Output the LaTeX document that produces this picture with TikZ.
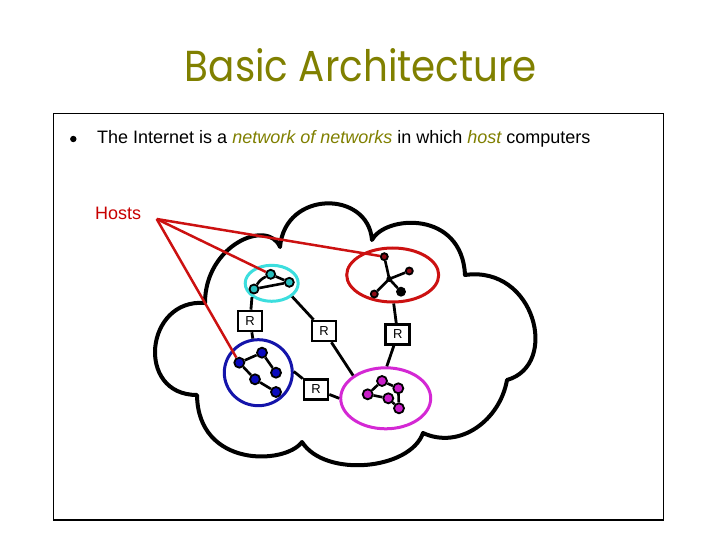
\documentclass[tikz,border=0pt]{standalone}
\usepackage{graphicx}
\usepackage{fontspec}
\setmainfont{Liberation Sans}
\newfontfamily\titlefont{Poppins}
\usetikzlibrary{shapes.geometric}
\definecolor{olivet}{RGB}{128,128,0}
\definecolor{hostred}{RGB}{204,17,17}
\definecolor{labelred}{RGB}{200,0,0}
\definecolor{cyanring}{RGB}{60,222,222}
\definecolor{cyanfill}{RGB}{40,190,190}
\definecolor{bluering}{RGB}{20,20,170}
\definecolor{bluefill}{RGB}{10,10,190}
\definecolor{magring}{RGB}{212,40,212}
\definecolor{magfill}{RGB}{200,30,200}
\definecolor{darkhost}{RGB}{140,10,20}
\tikzset{
  cloudline/.style={line width=4pt, line join=round, line cap=round},
  ring/.style={ellipse, draw, line width=3pt, inner sep=0pt},
  rbox/.style={draw, line width=2.6pt, fill=white, minimum width=24pt, minimum height=20pt, inner sep=0pt, font=\fontsize{13}{13}\selectfont},
  link/.style={line width=2.8pt},
  hostline/.style={hostred, line width=2.5pt},
  hostedge/.style={line width=2.6pt},
  dot/.style={circle, draw, line width=1.8pt, inner sep=0pt, minimum size=9pt},
  cyanhost/.style={dot, fill=cyanfill},
  bluehost/.style={dot, fill=bluefill, minimum size=10pt},
  maghost/.style={dot, fill=magfill, minimum size=10pt},
  redhost/.style={dot, fill=darkhost, minimum size=7pt},
}
\begin{document}
\begin{tikzpicture}[x=1pt,y=-1pt]
\useasboundingbox (0,0) rectangle (720,540);
\fill[white] (0,0) rectangle (720,540);

% title
\node[anchor=base, inner sep=0pt, text=olivet] (title) at (361,82)
  {\resizebox{352pt}{33pt}{\titlefont Basic Architecture}};

% frame
\draw[line width=1.5pt] (53.3,113.3) rectangle (663.3,520);

% bullet text
\fill (73.3,139) circle (3.2pt);
\node[anchor=base west, inner sep=0pt, font=\fontsize{18}{18}\selectfont] (line1) at (97,144)
  {The Internet is a \textcolor{olivet}{\itshape network of networks} in which \textcolor{olivet}{\itshape host} computers};

\node[anchor=base west, inner sep=0pt, text=labelred, font=\fontsize{18}{18}\selectfont] (hosts) at (95,220) {Hosts};
\coordinate (hp) at (156.7,219);

% cloud
\draw[cloudline] (205,303)
  .. controls (205,245) and (268,218) .. (280,247)
  .. controls (285,190) and (368,190) .. (372,240)
  .. controls (385,215) and (462,210) .. (465,275)
  .. controls (535,265) and (560,365) .. (507,380)
  .. controls (500,420) and (460,450) .. (423,433)
  .. controls (410,470) and (325,478) .. (302,442)
  .. controls (285,465) and (198,468) .. (197,395)
  .. controls (135,395) and (145,298) .. cycle;

% network rings
\node[ring, draw=cyanring, minimum width=53pt, minimum height=36pt] (cyan) at (271.7,283.3) {};
\node[ring, draw=hostred, minimum width=92pt, minimum height=54pt] (red) at (392.7,275) {};
\node[ring, draw=bluering, minimum width=68pt, minimum height=66pt] (blue) at (258.3,372.7) {};
\node[ring, draw=magring, minimum width=90pt, minimum height=61pt] (mag) at (385.7,398.3) {};

% routers
\node[rbox] (R1) at (250,321) {R};
\node[rbox] (R2) at (324,331) {R};
\node[rbox] (R3) at (397.7,334.3) {R};
\node[rbox] (R4) at (316,389.3) {R};

\draw[link] (cyan.215) -- (R1) -- (blue);
\draw[link] (cyan.-33) -- (R2) -- (mag.145);
\draw[link] (red.272) -- (R3) -- (mag.88);
\draw[link] (blue.2) -- (R4) -- (mag.180);

% hosts: cyan
\node[cyanhost] (c1) at (254,289) {};
\node[cyanhost] (c2) at (270.7,274.3) {};
\node[cyanhost] (c3) at (289.3,282.3) {};
\draw[hostedge] (c1) to[bend left=15] (c2);
\draw[hostedge] (c2) -- (c3);
\draw[hostedge] (c1) -- (c3);

% hosts: red star
\node[circle, fill=black, inner sep=0pt, minimum size=6pt] (r0) at (389.3,279) {};
\node[redhost] (r1) at (384.3,256.7) {};
\node[redhost] (r2) at (409.3,271) {};
\node[redhost] (r3) at (374.3,294) {};
\node[dot, fill=black, minimum size=8pt] (r4) at (401,291.7) {};
\draw[hostedge] (r0.center) -- (r1);
\draw[hostedge] (r0.center) -- (r2);
\draw[hostedge] (r0.center) -- (r3);
\draw[hostedge] (r0.center) -- (r4);

% hosts: blue
\node[bluehost] (b1) at (239.3,362.7) {};
\node[bluehost] (b2) at (262,352.7) {};
\node[bluehost] (b3) at (276,372.7) {};
\node[bluehost] (b4) at (255,379.3) {};
\node[bluehost] (b5) at (276,392) {};
\draw[hostedge] (b1) -- (b2);
\draw[hostedge] (b2) -- (b3);
\draw[hostedge] (b1) -- (b4);
\draw[hostedge] (b4) -- (b5);

% hosts: magenta
\node[maghost] (m1) at (367.7,394.3) {};
\node[maghost] (m2) at (382,381) {};
\node[maghost] (m3) at (398.3,388.3) {};
\node[maghost] (m4) at (388.3,398.3) {};
\node[maghost] (m5) at (399,408.3) {};
\draw[hostedge] (m1) -- (m2);
\draw[hostedge] (m2) -- (m3);
\draw[hostedge] (m3) -- (m5);
\draw[hostedge] (m1) -- (m4);
\draw[hostedge] (m4) -- (m5);

% Hosts pointers
\draw[hostline] (hp) -- (r1);
\draw[hostline] (hp) -- (c2);
\draw[hostline] (hp) -- (b1);
\end{tikzpicture}
\end{document}
